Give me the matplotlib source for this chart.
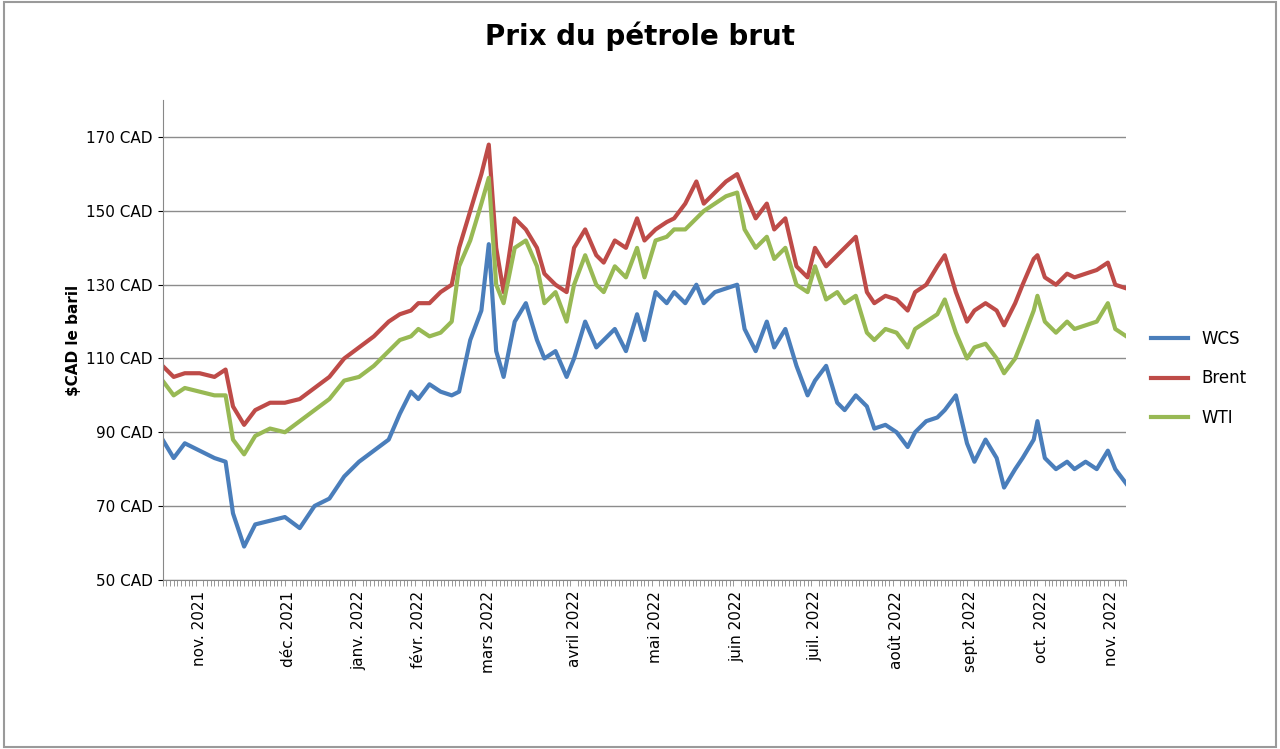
import matplotlib.pyplot as plt
from matplotlib.ticker import MultipleLocator

# trading-day index of each sample
day = [0, 3, 6, 10, 14, 17, 19, 22, 25, 29, 33, 37, 41, 45, 49, 53, 57, 61, 64, 67,
       69, 72, 75, 78, 80, 83, 86, 88, 90, 92, 95, 98, 101, 103, 106, 109, 111, 114, 117, 119,
       122, 125, 128, 130, 133, 136, 138, 141, 144, 146, 149, 152, 155, 157, 160, 163, 165, 168, 171, 174,
       176, 179, 182, 184, 187, 190, 192, 195, 198, 201, 203, 206, 209, 211, 214, 217, 219, 222, 225, 227,
       230, 232, 235, 236, 238, 241, 244, 246, 249, 252, 255, 257, 260]

wcs = [88, 83, 87, 85, 83, 82, 68, 59, 65, 66, 67, 64, 70, 72, 78, 82, 85, 88, 95, 101,
       99, 103, 101, 100, 101, 115, 123, 141, 112, 105, 120, 125, 115, 110, 112, 105, 110, 120, 113, 115,
       118, 112, 122, 115, 128, 125, 128, 125, 130, 125, 128, 129, 130, 118, 112, 120, 113, 118, 108, 100,
       104, 108, 98, 96, 100, 97, 91, 92, 90, 86, 90, 93, 94, 96, 100, 87, 82, 88, 83, 75,
       80, 83, 88, 93, 83, 80, 82, 80, 82, 80, 85, 80, 76]

brent = [108, 105, 106, 106, 105, 107, 97, 92, 96, 98, 98, 99, 102, 105, 110, 113, 116, 120, 122, 123,
         125, 125, 128, 130, 140, 150, 160, 168, 140, 128, 148, 145, 140, 133, 130, 128, 140, 145, 138, 136,
         142, 140, 148, 142, 145, 147, 148, 152, 158, 152, 155, 158, 160, 155, 148, 152, 145, 148, 135, 132,
         140, 135, 138, 140, 143, 128, 125, 127, 126, 123, 128, 130, 135, 138, 128, 120, 123, 125, 123, 119,
         125, 130, 137, 138, 132, 130, 133, 132, 133, 134, 136, 130, 129]

wti = [104, 100, 102, 101, 100, 100, 88, 84, 89, 91, 90, 93, 96, 99, 104, 105, 108, 112, 115, 116,
       118, 116, 117, 120, 135, 142, 152, 159, 130, 125, 140, 142, 135, 125, 128, 120, 130, 138, 130, 128,
       135, 132, 140, 132, 142, 143, 145, 145, 148, 150, 152, 154, 155, 145, 140, 143, 137, 140, 130, 128,
       135, 126, 128, 125, 127, 117, 115, 118, 117, 113, 118, 120, 122, 126, 117, 110, 113, 114, 110, 106,
       110, 115, 123, 127, 120, 117, 120, 118, 119, 120, 125, 118, 116]

month_day = [10, 34, 53, 69, 88, 111, 133, 155, 176, 198, 218, 237, 256]
month_labels = ['nov. 2021', 'déc. 2021', 'janv. 2022', 'févr. 2022', 'mars 2022', 'avril 2022',
                'mai 2022', 'juin 2022', 'juil. 2022', 'août 2022', 'sept. 2022', 'oct. 2022',
                'nov. 2022']

fig = plt.figure(figsize=(12.8, 7.49), dpi=100)
fig.patches.append(plt.Rectangle((0.003, 0.003), 0.994, 0.994, transform=fig.transFigure,
                                 fill=False, edgecolor='#9a9a9a', linewidth=1.5))
ax = fig.add_axes([0.127, 0.226, 0.753, 0.64])

ax.plot(day, wcs, color='#4a7ebb', lw=3, label='WCS')
ax.plot(day, brent, color='#be4b48', lw=3, label='Brent')
ax.plot(day, wti, color='#98b954', lw=3, label='WTI')

ax.set_xlim(0, 260)
ax.set_ylim(50, 180)
ax.set_yticks(range(50, 171, 20))
ax.set_yticklabels([f'{v} CAD' for v in range(50, 171, 20)], fontsize=11)
ax.grid(axis='y', color='#8c8c8c', lw=1)
ax.set_axisbelow(True)
ax.set_xticks(month_day)
ax.set_xticklabels(month_labels, rotation=90, fontsize=11)
ax.xaxis.set_minor_locator(MultipleLocator(1))
ax.tick_params(axis='x', which='major', length=0, pad=8)
ax.tick_params(axis='x', which='minor', length=4, color='#888888')
for s in ['top', 'right']:
    ax.spines[s].set_visible(False)
for s in ['left', 'bottom']:
    ax.spines[s].set_color('#888888')

ax.set_ylabel('$CAD le baril', fontsize=11, fontweight='bold')
fig.text(0.5, 0.94, 'Prix du pétrole brut', ha='center', fontsize=20, fontweight='bold')
ax.legend(loc='center left', bbox_to_anchor=(1.01, 0.42), frameon=False, fontsize=12,
          handlelength=2.2, labelspacing=1.3)

fig.savefig('out.png', dpi=100)
